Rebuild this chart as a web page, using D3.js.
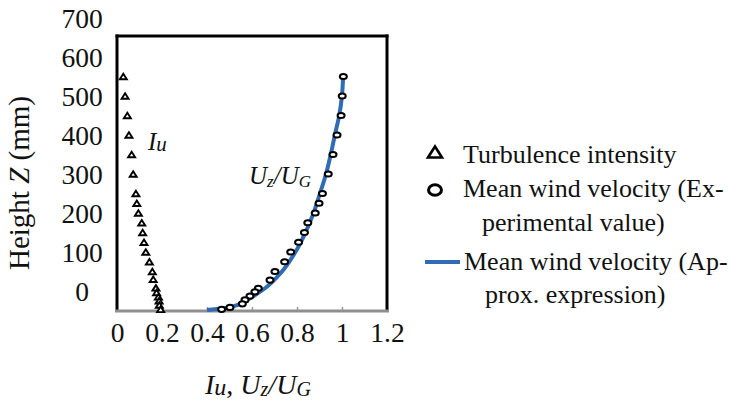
<!DOCTYPE html>
<html>
<head>
<meta charset="utf-8">
<script src="https://cdn.jsdelivr.net/npm/d3@7"></script>
<style>
  html, body { margin: 0; padding: 0; background: #fff; }
  svg { display: block; }
  text { font-family: "Liberation Serif", "Times New Roman", serif; fill: #111; }
</style>
</head>
<body>
<svg id="chart" width="731" height="404"></svg>
<script>
// ---- data ----
const turbHeights = [550, 500, 450, 400, 350, 300, 250, 225, 200, 175, 150, 125, 100, 75, 50, 30, 8, -4, -15, -25, -36, -47];
const turbValues  = [0.028, 0.036, 0.046, 0.053, 0.065, 0.072, 0.084, 0.088, 0.095, 0.110, 0.114, 0.120, 0.128, 0.144, 0.157, 0.161, 0.173, 0.176, 0.184, 0.187, 0.188, 0.194];

const velHeights = [550, 500, 450, 400, 350, 300, 250, 225, 200, 175, 150, 125, 100, 75, 50, 28, 7, -2, -13, -23, -33, -42, -47];
const velValues  = [1.006, 1.001, 0.996, 0.978, 0.960, 0.939, 0.913, 0.898, 0.881, 0.848, 0.833, 0.807, 0.772, 0.745, 0.702, 0.680, 0.628, 0.613, 0.591, 0.569, 0.557, 0.502, 0.465];

const approxHeights = [550, 502, 451, 402, 350, 300, 250, 199, 148, 98, 49, 7, -23, -42, -46, -48.5];
const approxValues  = [1.005, 1.000, 0.988, 0.969, 0.950, 0.929, 0.902, 0.873, 0.836, 0.791, 0.732, 0.658, 0.576, 0.502, 0.445, 0.400];

const xTicks = [0, 0.2, 0.4, 0.6, 0.8, 1, 1.2];
const yTicks = [0, 100, 200, 300, 400, 500, 600, 700];

const legendLabels = [
  ["Turbulence intensity"],
  ["Mean wind velocity (Ex-", "perimental value)"],
  ["Mean wind velocity (Ap-", "prox. expression)"]
];

// ---- layout ----
const svg = d3.select("#chart");
const plot = { left: 117, right: 387, top: 36, bottom: 311 };

const x = d3.scaleLinear().domain([0, 1.2]).range([plot.left, plot.right]);
const y = d3.scaleLinear().domain([0, 700]).range([291, 18]);

const blue = "#2f6cb4";

// y tick labels
const yAxis = svg.append("g").attr("transform", "translate(82,0)")
  .call(d3.axisLeft(y).tickValues(yTicks).tickSize(0).tickPadding(0).tickFormat(d3.format("d")));
yAxis.select(".domain").remove();
yAxis.selectAll("text")
  .attr("text-anchor", "middle").attr("x", 0).attr("dy", "0.34em")
  .style("font-family", '"Liberation Serif", serif').style("font-size", "27.5px").attr("fill", "#111");

// x axis (bottom gray line with inward ticks)
const xAxis = svg.append("g").attr("transform", `translate(0,${plot.bottom})`)
  .call(d3.axisBottom(x).tickValues(xTicks).tickSize(-4).tickPadding(0).tickFormat(d => d3.format("~g")(d)));
xAxis.select(".domain").remove();
xAxis.selectAll(".tick line").attr("stroke", "#9a9a9a").attr("stroke-width", 1.5);
xAxis.selectAll(".tick").filter(d => d === 0).select("line").remove();
xAxis.selectAll("text")
  .attr("y", 31).attr("dy", 0)
  .style("font-family", '"Liberation Serif", serif').style("font-size", "27.5px").attr("fill", "#111");

// frame
svg.append("line").attr("x1", plot.left).attr("x2", plot.left).attr("y1", plot.top - 1.5).attr("y2", plot.bottom)
  .attr("stroke", "#000").attr("stroke-width", 3);
svg.append("line").attr("x1", plot.left - 1.5).attr("x2", plot.right + 1.5).attr("y1", plot.top).attr("y2", plot.top)
  .attr("stroke", "#000").attr("stroke-width", 3);
svg.append("line").attr("x1", plot.right).attr("x2", plot.right).attr("y1", plot.top - 1.5).attr("y2", plot.bottom)
  .attr("stroke", "#000").attr("stroke-width", 3);
svg.append("line").attr("x1", plot.left - 2).attr("x2", plot.right + 2).attr("y1", plot.bottom).attr("y2", plot.bottom)
  .attr("stroke", "#8f8f8f").attr("stroke-width", 3);

// approximate expression line
const approx = approxHeights.map((h, i) => ({ h, v: approxValues[i] }));
svg.append("path").datum(approx)
  .attr("fill", "none").attr("stroke", blue).attr("stroke-width", 4)
  .attr("d", d3.line().x(d => x(d.v)).y(d => y(d.h)).curve(d3.curveMonotoneY));

// velocity circles
const vel = velHeights.map((h, i) => ({ h, v: velValues[i] }));
svg.append("g").selectAll("ellipse").data(vel).join("ellipse")
  .attr("cx", d => x(d.v)).attr("cy", d => y(d.h))
  .attr("rx", 3.5).attr("ry", 2.6)
  .attr("fill", "#fff").attr("stroke", "#000").attr("stroke-width", 2);

// turbulence triangles
const tri = (cx, cy, w, h) => `M${cx},${cy - h / 2}L${cx + w / 2},${cy + h / 2}L${cx - w / 2},${cy + h / 2}Z`;
const turb = turbHeights.map((h, i) => ({ h, v: turbValues[i] }));
svg.append("g").selectAll("path").data(turb).join("path")
  .attr("d", d => tri(x(d.v), y(d.h), 7, 5.5))
  .attr("fill", "#fff").attr("stroke", "#000").attr("stroke-width", 1.9).attr("stroke-linejoin", "miter");

// in-plot labels
const iu = svg.append("text").attr("x", 148).attr("y", 150).style("font-size", "25px").style("font-style", "italic");
iu.append("tspan").text("I");
iu.append("tspan").text("u").style("font-size", "21px").attr("dy", 1);

const uz = svg.append("text").attr("x", 249).attr("y", 184).style("font-size", "25px").style("font-style", "italic");
uz.append("tspan").text("U");
uz.append("tspan").text("z").style("font-size", "17px").attr("dy", 3);
uz.append("tspan").text("/").attr("dy", -3);
uz.append("tspan").text("U");
uz.append("tspan").text("G").style("font-size", "17px").attr("dy", 3);

// axis titles
const xt = svg.append("text").attr("x", 205).attr("y", 394).style("font-size", "28px");
xt.append("tspan").text("I").style("font-style", "italic");
xt.append("tspan").text("u").style("font-style", "italic").style("font-size", "24px").attr("dy", 1);
xt.append("tspan").text(", ").attr("dy", -1);
xt.append("tspan").text("U").style("font-style", "italic");
xt.append("tspan").text("z").style("font-style", "italic").style("font-size", "20px").attr("dy", 2);
xt.append("tspan").text("/").style("font-style", "italic").attr("dy", -2);
xt.append("tspan").text("U").style("font-style", "italic");
xt.append("tspan").text("G").style("font-style", "italic").style("font-size", "20px").attr("dy", 2);

const yt = svg.append("text").attr("transform", "translate(29,183) rotate(-90)")
  .attr("text-anchor", "middle").style("font-size", "29px");
yt.append("tspan").text("Height ");
yt.append("tspan").text("Z").style("font-style", "italic");
yt.append("tspan").text(" (mm)");

// legend
const lg = svg.append("g");
const lfs = "26px";
lg.append("path").attr("d", tri(435, 152, 14, 11)).attr("fill", "#fff").attr("stroke", "#000").attr("stroke-width", 2.6);
lg.append("text").attr("x", 463).attr("y", 163).style("font-size", lfs).text(legendLabels[0][0]);

lg.append("ellipse").attr("cx", 435).attr("cy", 190).attr("rx", 6.5).attr("ry", 5.2).attr("fill", "#fff").attr("stroke", "#000").attr("stroke-width", 3);
lg.append("text").attr("x", 463).attr("y", 197).style("font-size", lfs).text(legendLabels[1][0]);
lg.append("text").attr("x", 482).attr("y", 231).style("font-size", lfs).text(legendLabels[1][1]);

lg.append("line").attr("x1", 425).attr("x2", 460).attr("y1", 262).attr("y2", 262).attr("stroke", blue).attr("stroke-width", 4);
lg.append("text").attr("x", 464).attr("y", 270).style("font-size", lfs).text(legendLabels[2][0]);
lg.append("text").attr("x", 485).attr("y", 303).style("font-size", lfs).text(legendLabels[2][1]);
</script>
</body>
</html>
